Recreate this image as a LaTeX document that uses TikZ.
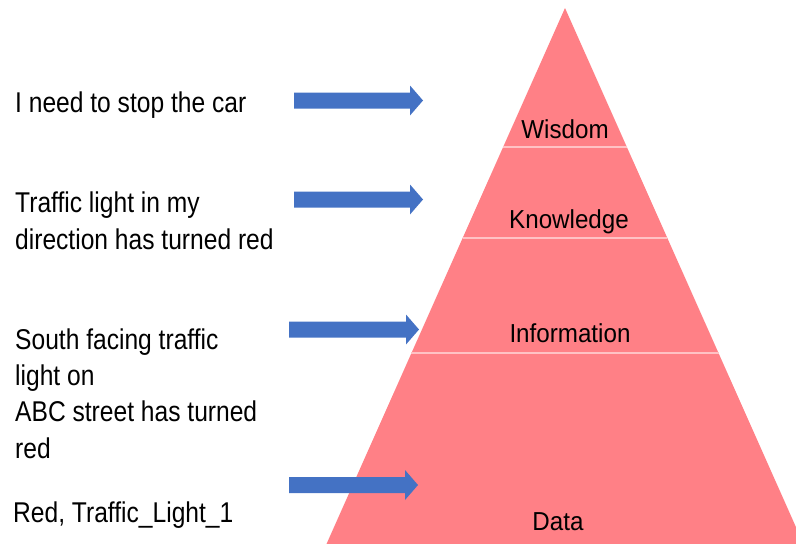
\documentclass[tikz,border=0pt]{standalone}
\usepackage{fontspec}
\setmainfont{Liberation Sans}
\newfontfamily\lefttextfont[FakeStretch=0.86]{Liberation Sans}
\newfontfamily\pyrtextfont[FakeStretch=0.93]{Liberation Sans}
\definecolor{pyrpink}{HTML}{FF8086}
\definecolor{divpink}{HTML}{FFC2C4}
\definecolor{arrowblue}{HTML}{4472C4}
\tikzset{
  lefttext/.style={anchor=base west, inner sep=0pt, align=left,
    font=\lefttextfont\fontsize{28.6}{36.3}\selectfont},
  pyrlabel/.style={anchor=base, inner sep=0pt,
    font=\pyrtextfont\fontsize{26}{30}\selectfont},
  divider/.style={draw=divpink, line width=1.6pt},
  blockarrow/.style={fill=arrowblue, draw=none}
}
\newcommand{\blockarr}[3]{% left x, tip x, center y
  \fill[blockarrow] (#1,#3-8) -- (#2-13,#3-8) -- (#2-13,#3-15) -- (#2,#3)
    -- (#2-13,#3+15) -- (#2-13,#3+8) -- (#1,#3+8) -- cycle;}
\begin{document}
\begin{tikzpicture}[x=1pt,y=-1pt]
\useasboundingbox (0,0) rectangle (796,544);
\begin{scope}
\clip (0,0) rectangle (796,544);
% pyramid
\fill[pyrpink] (565,8) -- (803.5,544) -- (326.5,544) -- cycle;
\coordinate (apex) at (565,8);
\draw[divider] ({565-0.445*139},147) -- ({565+0.445*139},147);
\draw[divider] ({565-0.445*230},238) -- ({565+0.445*230},238);
\draw[divider] ({565-0.445*345},353) -- ({565+0.445*345},353);
\end{scope}
% pyramid labels
\node[pyrlabel] (wis) at (565,138) {Wisdom};
\node[pyrlabel] (kno) at (569,228) {Knowledge};
\node[pyrlabel] (inf) at (570,342) {Information};
\node[pyrlabel] (dat) at (558,530) {Data};
% left texts (multi-line nodes: base = last line)
\node[lefttext] (t1) at (15,112) {I need to stop the car};
\node[lefttext] (t2) at (15,249) {Traffic light in my\\direction has turned red};
\node[lefttext] (t3) at (15,458) {South facing traffic\\light on\\ABC street has turned\\red};
\node[lefttext] (t4) at (13,522) {Red, Traffic\_Light\_1};
% arrows
\blockarr{294}{423}{100.5}
\blockarr{294}{423}{199.5}
\blockarr{289}{419}{329.5}
\blockarr{289}{418}{485}
\end{tikzpicture}
\end{document}
